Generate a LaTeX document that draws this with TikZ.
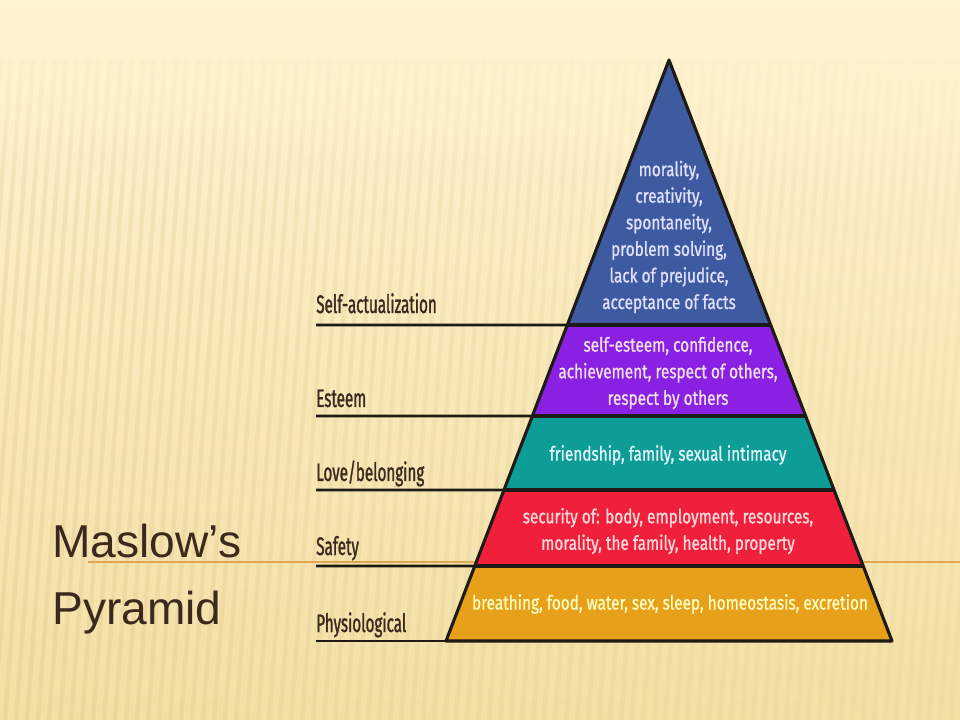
\documentclass[tikz,border=0pt]{standalone}
\usepackage{fontspec}
\usetikzlibrary{calc, fadings}
\newfontfamily\titlefont{Liberation Sans}
\newfontfamily\levelfont[FakeStretch=0.6, FakeBold=1.2]{Fira Sans}
\newfontfamily\bandfont[FakeStretch=0.78, FakeBold=1]{Fira Sans}
\definecolor{paper}{RGB}{255,243,208}
\definecolor{paperdark}{RGB}{243,224,166}
\definecolor{stripecol}{RGB}{200,170,100}
\definecolor{slideline}{RGB}{226,165,80}
\definecolor{inkbrown}{RGB}{58,42,30}
\definecolor{outlinecol}{RGB}{30,26,22}
\definecolor{topblue}{RGB}{62,90,160}
\definecolor{esteempurple}{RGB}{138,32,226}
\definecolor{loveteal}{RGB}{14,156,150}
\definecolor{safetyred}{RGB}{240,32,60}
\definecolor{physorange}{RGB}{230,160,26}
\begin{document}
\begin{tikzpicture}[
    x=0.025cm, y=-0.025cm,
    stripe/.style={stripecol, line width=3.2pt},
    outline/.style={outlinecol, line width=2.2pt, line join=round},
    rule/.style={outlinecol, line width=2pt},
    lvl/.style={anchor=base west, inner sep=0pt, text=inkbrown,
        font=\levelfont\fontsize{18}{20}\selectfont},
    bandtext/.style={align=center, inner sep=0pt,
        font=\bandfont\fontsize{14}{18.9}\selectfont},
    title/.style={anchor=base west, inner sep=0pt, text=inkbrown,
        font=\titlefont\fontsize{32.8}{36}\selectfont}
]
\useasboundingbox (0,0) rectangle (960,720);
\shade[top color=paper, bottom color=paperdark] (0,0) rectangle (960,720);
\begin{scope}
\clip (0,60) rectangle (960,720);
\foreach \x in {0,11,...,1050}
    \draw[stripe, opacity={0.17-0.12*\x/1050}] (\x,60) -- (\x-50,720);
\end{scope}
\fill[paper, path fading=south] (0,0) rectangle (960,200);
\draw[slideline, line width=1pt] (88,562) -- (960,562);

\node[title] (maslow) at (52,557) {Maslow’s};
\node[title] (pyr) at (52,624) {Pyramid};

\coordinate (apex) at (669,60);
\coordinate (bl) at (446,641);
\coordinate (br) at (892,641);
\foreach \n/\f in {a/0.4561, b/0.6127, c/0.7401, d/0.8709} {
    \coordinate (l\n) at ($(apex)!\f!(bl)$);
    \coordinate (r\n) at ($(apex)!\f!(br)$);
}

\fill[topblue] (apex) -- (ra) -- (la) -- cycle;
\fill[esteempurple] (la) -- (ra) -- (rb) -- (lb) -- cycle;
\fill[loveteal] (lb) -- (rb) -- (rc) -- (lc) -- cycle;
\fill[safetyred] (lc) -- (rc) -- (rd) -- (ld) -- cycle;
\fill[physorange] (ld) -- (rd) -- (br) -- (bl) -- cycle;
\draw[outline] (apex) -- (br) -- (bl) -- cycle;
\draw[outline] (la) -- (ra);
\draw[outline] (lb) -- (rb);
\draw[outline] (lc) -- (rc);
\draw[outline] (ld) -- (rd);

\node[bandtext, text=blue!12!white] (selftxt) at (669,237)
    {morality,\\creativity,\\spontaneity,\\problem solving,\\lack of prejudice,\\acceptance of facts};
\node[bandtext, text=violet!12!white] (esteemtxt) at (668,373)
    {self-esteem, confidence,\\achievement, respect of others,\\respect by others};
\node[bandtext, text=cyan!12!white] (lovetxt) at (668,455)
    {friendship, family, sexual intimacy};
\node[bandtext, text=red!15!white] (safetytxt) at (668,531)
    {security of: body, employment, resources,\\morality, the family, health, property};
\node[bandtext, text=yellow!25!white] (phystxt) at (670,604)
    {breathing, food, water, sex, sleep, homeostasis, excretion};

\coordinate (ta) at (316,325);
\coordinate (tb) at (316,416);
\coordinate (tc) at (316,490);
\coordinate (td) at (316,566);
\coordinate (te) at (316,641);
\node[lvl] (selfact) at ($(ta)+(0,-12)$) {Self-actualization};
\node[lvl] (esteem) at ($(tb)+(0,-9)$) {Esteem};
\node[lvl] (love) at ($(tc)+(0,-9)$) {Love/belonging};
\node[lvl] (safety) at ($(td)+(0,-11)$) {Safety};
\node[lvl] (phys) at ($(te)+(0,-9)$) {Physiological};
\draw[rule] (ta) -- (la);
\draw[rule] (tb) -- (lb);
\draw[rule] (tc) -- (lc);
\draw[rule] (td) -- (ld);
\draw[rule] (te) -- (bl);
\end{tikzpicture}
\end{document}
